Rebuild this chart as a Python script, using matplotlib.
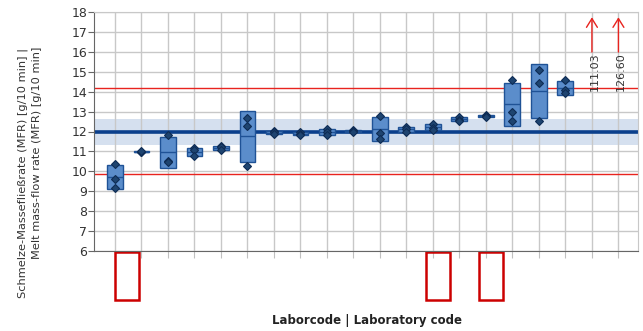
import numpy as np
import matplotlib
matplotlib.use("Agg")
import matplotlib.pyplot as plt
from matplotlib.patches import Rectangle
import matplotlib.transforms as mtransforms

# ---- data ----
lab_values = [
    [10.38, 9.62, 9.18],
    [10.95, 10.98, 11.00],
    [11.84, 10.54, 10.48],
    [11.15, 11.05, 10.75],
    [11.28, 11.20, 11.05],
    [12.69, 12.29, 10.28],
    [12.02, 11.97, 11.85],
    [11.95, 11.88, 11.80],
    [12.12, 11.96, 11.83],
    [12.10, 12.04, 11.98],
    [12.78, 11.92, 11.62],
    [12.24, 12.12, 12.00],
    [12.38, 12.20, 12.08],
    [12.72, 12.60, 12.52],
    [12.85, 12.80, 12.72],
    [14.57, 13.00, 12.53],
    [15.12, 14.44, 12.53],
    [14.57, 14.08, 13.93],
    [],
    [],
]
outlier_labs = [19, 20]
outlier_values = [111.03, 126.60]
highlight_labs = [1, 13, 15]
highlight_offsets = [0.45, 0.2, 0.2]

assigned_value = 12.0
band_low, band_high = 11.32, 12.64
limit_low, limit_high = 9.85, 14.2

xlabel = "Laborcode | Laboratory code"
ylabel_1 = "Schmelze-Masseflie\u00dfrate (MFR) [g/10 min] |"
ylabel_2 = "Melt mass-flow rate (MFR) [g/10 min]"

# ---- figure ----
W, H = 643, 331
fig = plt.figure(figsize=(W / 100, H / 100), dpi=100)
ax = fig.add_axes([94.3 / W, 1 - 250.7 / H, (638.3 - 94.3) / W, (250.7 - 12.3) / H])

n = len(lab_values)
xs = np.arange(1, n + 1)

ax.set_xlim(0.22, n + 0.75)
ax.set_ylim(6, 18)
ax.set_yticks(np.arange(6, 19, 1))
ax.set_xticks(xs)
ax.set_xticklabels([""] * n)

ax.set_axisbelow(True)
ax.grid(True, color="#c8c8c8", linewidth=1.0, zorder=0.5)

for s in ["top", "right"]:
    ax.spines[s].set_color("#c8c8c8")
for s in ["left", "bottom"]:
    ax.spines[s].set_color("#666666")
ax.tick_params(axis="y", length=4, color="#666666", labelsize=9, labelcolor="#333333", pad=1)
ax.tick_params(axis="x", length=5, color="#c0c0c0")

# band and reference lines
ax.axhspan(band_low, band_high, color="#d5e0ef", zorder=0.2, lw=0)
ax.axhline(assigned_value, color="#0a3f8c", lw=2.6, zorder=2)
ax.axhline(limit_low, color="#e8231e", lw=1.0, zorder=2)
ax.axhline(limit_high, color="#e8231e", lw=1.0, zorder=2)

# boxes (mean +- sd), mean line, individual values
bw = 0.6
for x, vals in zip(xs, lab_values):
    if not vals:
        continue
    v = np.array(vals)
    m = v.mean()
    sd = v.std(ddof=1)
    ax.bar(x, 2 * sd, bottom=m - sd, width=bw, color="#5b8dcb",
           edgecolor="#1f5296", linewidth=1.0, zorder=3)
    ax.hlines(m, x - bw / 2, x + bw / 2, color="#1f5296", lw=1.0, zorder=4)
    ax.plot(np.full(len(v), x), v, linestyle="none", marker="D", markersize=4.2,
            markerfacecolor="#1e4470", markeredgecolor="#0e2c55",
            markeredgewidth=0.8, zorder=5)

# off-scale values
for lab, val in zip(outlier_labs, outlier_values):
    ax.annotate("", xy=(lab, 17.75), xytext=(lab, 16.0),
                arrowprops=dict(arrowstyle="->,head_length=0.45,head_width=0.28",
                                color="#e8231e", lw=1.0, mutation_scale=14,
                                shrinkA=0, shrinkB=0), zorder=6)
    ax.text(lab + 0.1, 15.97, f"{val:.2f}", rotation=90, ha="center", va="top",
            fontsize=8, color="#333333", zorder=6)

# highlighted lab codes
trans = mtransforms.blended_transform_factory(ax.transData, ax.transAxes)
for lab, off in zip(highlight_labs, highlight_offsets):
    r = Rectangle((lab + off - 0.45, -0.207), 0.9, 0.2015, transform=trans,
                  fill=False, edgecolor="#cc0000", linewidth=1.8, clip_on=False)
    ax.add_patch(r)

fig.text(366.7 / W, 1 - 320.7 / H, xlabel, ha="center", va="center",
         fontsize=8.5, fontweight="bold", color="#222222")
fig.text(22.7 / W, 1 - 172.5 / H, ylabel_1, rotation=90, ha="center", va="center",
         fontsize=8.2, color="#333333")
fig.text(36.7 / W, 1 - 153 / H, ylabel_2, rotation=90, ha="center", va="center",
         fontsize=8.2, color="#333333")

fig.savefig("out.png", dpi=100)
